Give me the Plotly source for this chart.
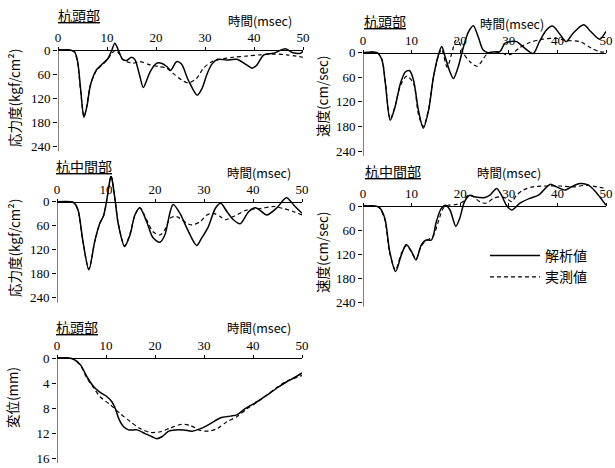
import plotly.graph_objects as go

W, H = 615, 468

# ---------------- data ----------------
xticks = [0, 10, 20, 30, 40, 50]
stress_ticks = [0, 60, 120, 180, 240]
vel_ticks = [0, 60, 120, 180, 240]
disp_ticks = [0, 4, 8, 12, 16]

series_names = ["解析値", "実測値"]

# Panel 1: 杭頭部 応力度
t1s = [0, 2.5, 3.4, 4.0, 4.6, 5.3, 5.9, 6.6, 7.8, 9.2, 10.2, 10.9, 11.6, 12.3, 13.2, 14.0, 15.0, 15.7, 16.6,
       17.4, 18.2, 18.8, 20.1, 21.1, 22.2, 23.0, 24.2, 25.2, 26.6, 28.4, 29.4, 30.4, 31.4, 32.6, 34.4, 36.5,
       38.5, 39.6, 40.6, 42.0, 44.0, 46.4, 48.0, 49.5, 50]
v1s = [0, 0, 5, 28, 95, 167, 140, 88, 50, 33, 21, 3, -17, 0, 23, 26, 18, 24, 60,
       93, 72, 54, 33, 33, 41, 50, 29, 35, 75, 112, 95, 60, 35, 23, 25, 23,
       37, 45, 37, 12, 8, -3, 7, 8, 3]
t1d = [0, 2.5, 3.4, 4.0, 4.6, 5.3, 5.9, 6.6, 7.8, 9.2, 10.2, 11.0, 11.8, 12.6, 13.3, 14.3, 15.3, 16.7, 18.8,
       20.5, 22.2, 23.5, 25.2, 26.6, 28.3, 29.7, 31.4, 33.1, 35.8, 38.5, 41.3, 44.0, 46.7, 50]
v1d = [0, 0, 6, 32, 100, 165, 138, 88, 52, 35, 22, 8, 0, 12, 25, 30, 33, 29, 37,
       41, 45, 58, 74, 82, 70, 45, 29, 23, 18, 15, 12, 10, 12, 18]

# Panel 2: 杭頭部 速度
t2s = [0, 2.9, 3.9, 4.6, 5.6, 6.6, 7.7, 8.7, 9.6, 10.4, 11.4, 12.4, 13.5, 14.5, 15.5, 16.2, 16.9, 17.9,
       18.6, 19.6, 20.6, 21.7, 22.7, 23.7, 24.7, 25.7, 26.8, 28.1, 29.2, 30.2, 31.6, 32.9, 35.0, 36.3,
       37.7, 39.0, 40.4, 41.8, 43.2, 45.4, 46.9, 48.7, 50]
v2s = [0, 0, 18, 75, 165, 132, 75, 47, 44, 67, 140, 184, 140, 59, 6, -15, 10, 47,
       63, 34, -11, -51, -66, -39, -7, 0, -2, -2, -23, -27, -27, -15, 2, -27,
       -55, -65, -47, -27, -47, -68, -51, -33, -52]
t2d = [0, 2.9, 3.9, 4.6, 5.6, 6.6, 7.7, 9.0, 10.4, 11.4, 12.4, 13.5, 14.5, 15.5, 16.2, 17.3, 18.3, 19.1,
       19.8, 20.6, 22.0, 23.5, 25.4, 26.8, 28.1, 29.5, 30.6, 32.2, 34.3, 37.0, 39.8, 41.8, 44.6, 47.0,
       48.8, 50]
v2d = [0, 0, 16, 72, 162, 130, 80, 57, 75, 150, 180, 138, 60, 8, -8, 35, 0, -30,
       -25, 0, 22, 33, 5, -2, -2, 5, 3, -12, -25, -33, -35, -30, -27, -11,
       -2, -2]

# Panel 3: 杭中間部 応力度
t3s = [0, 2.8, 3.5, 4.3, 5.3, 6.5, 7.7, 8.7, 9.5, 10.1, 10.8, 11.0, 11.2, 11.9, 12.5, 13.8, 14.9, 15.9,
       16.9, 18.3, 19.6, 21.0, 22.0, 23.1, 23.7, 25.1, 26.5, 28.5, 29.5, 30.9, 32.3, 33.4, 34.7, 36.0,
       37.4, 39.1, 40.5, 41.5, 42.8, 44.9, 46.8, 48.3, 50]
v3s = [0, 0, 3, 21, 99, 170, 99, 55, 35, 0, -54, -64, -58, 0, 55, 112, 83, 33,
       15, 50, 90, 101, 83, 25, 7, 29, 66, 109, 91, 62, 17, 4, 25, 45,
       55, 25, 15, 22, 33, 15, -10, 8, 29]
t3d = [0, 2.8, 3.5, 4.3, 5.3, 6.5, 7.7, 8.7, 9.5, 10.1, 10.8, 11.0, 11.2, 11.9, 12.5, 13.8, 14.9, 15.9,
       16.9, 18.3, 19.6, 21.0, 22.0, 23.1, 24.4, 26.5, 27.5, 29.2, 30.6, 31.9, 33.3, 34.3, 36.0, 38.7,
       41.5, 44.2, 46.2, 48.3, 50]
v3d = [0, 0, 3, 22, 100, 168, 100, 55, 35, 0, -54, -64, -58, 0, 55, 110, 80, 33,
       15, 45, 75, 83, 70, 41, 37, 54, 58, 50, 33, 29, 37, 45, 37, 21,
       17, 12, 17, 25, 33]

# Panel 4: 杭中間部 速度
t4s = [0, 2.5, 3.4, 4.5, 5.5, 6.7, 7.9, 8.9, 10.0, 10.9, 12.0, 13.0, 14.1, 15.1, 16.1, 17.0, 17.9, 19.1,
       19.9, 20.9, 22.0, 23.0, 24.0, 25.1, 26.1, 27.5, 28.5, 29.5, 30.6, 32.3, 34.3, 36.1, 38.5, 39.8,
       41.6, 42.9, 44.6, 46.4, 48.1, 50]
v4s = [0, 0, 4, 31, 114, 164, 122, 96, 114, 135, 97, 85, 85, 39, 6, -2, 10, 51,
       31, -11, -27, -23, -21, -21, -27, -44, -27, -2, 10, -7, -19, -27, -54, -48,
       -40, -48, -56, -52, -32, -2]
t4d = [0, 2.5, 3.4, 4.5, 5.5, 6.7, 7.9, 8.9, 10.0, 10.9, 12.0, 13.0, 14.4, 15.5, 16.5, 17.5, 19.2, 20.6,
       21.6, 22.7, 24.0, 25.4, 26.8, 28.2, 29.5, 30.6, 31.6, 33.0, 35.0, 37.8, 40.5, 43.3, 46.0, 48.1, 50]
v4d = [0, 0, 5, 35, 118, 160, 118, 100, 115, 133, 100, 87, 76, 39, 6, -2, -4, -11,
       -27, -23, -11, -7, -19, -23, -19, -11, -27, -40, -48, -50, -50, -48, -52, -48, -44]

# Panel 5: 杭頭部 変位
t5s = [0, 2.5, 3.4, 4.8, 6.1, 7.5, 8.8, 10.2, 11.2, 11.9, 12.6, 13.6, 14.6, 16.3, 18.0, 19.4, 20.4, 21.4,
       22.8, 24.1, 25.9, 27.6, 29.3, 31.3, 33.3, 35.4, 36.7, 38.4, 40.8, 42.9, 44.9, 46.9, 48.3, 50]
v5s = [0, 0, 0.2, 1.1, 3.0, 4.6, 5.5, 6.2, 7.0, 8.1, 9.7, 11.0, 11.5, 11.5, 12.1, 12.6, 12.9, 12.6,
       11.7, 11.5, 11.5, 11.7, 11.3, 10.5, 9.6, 9.3, 9.1, 8.1, 7.0, 5.9, 4.8, 3.8, 3.2, 2.4]
t5d = [0, 2.5, 3.4, 4.8, 6.1, 7.5, 8.8, 10.9, 12.9, 15.0, 17.0, 19.0, 21.1, 23.1, 25.5, 27.2, 29.3, 31.0,
       32.7, 34.7, 36.7, 38.8, 40.8, 42.9, 44.9, 46.9, 50]
v5d = [0, 0, 0.2, 1.2, 3.2, 4.8, 6.2, 7.5, 8.9, 10.2, 11.3, 11.9, 11.8, 11.2, 10.6, 10.8, 11.6, 11.7,
       11.3, 10.2, 9.4, 8.1, 7.1, 5.9, 4.7, 3.7, 2.8]

# ---------------- layout ----------------
SERIF = "Liberation Serif, Noto Sans CJK JP"
JP = "Noto Sans CJK JP, Liberation Serif"

panels = [
    dict(s=(t1s, v1s), d=(t1d, v1d), ticks=stress_ticks, x0=58, x50=303, y0=50, ppu=0.403, vtop=-22, vbot=252,
         ytitle="応力度(kgf/cm²)", ytx=14, yty=98, label="杭頭部", lx=79, ly=15, tx=260, ty=21),
    dict(s=(t2s, v2s), d=(t2d, v2d), ticks=vel_ticks, x0=363, x50=606, y0=52.7, ppu=0.41, vtop=-75, vbot=252,
         ytitle="速度(cm/sec)", ytx=322, yty=96, label="杭頭部", lx=385, ly=21, tx=512, ty=23),
    dict(s=(t3s, v3s), d=(t3d, v3d), ticks=stress_ticks, x0=57, x50=302, y0=201.7, ppu=0.401, vtop=-64, vbot=252,
         ytitle="応力度(kgf/cm²)", ytx=14, yty=248, label="杭中間部", lx=84, ly=166, tx=259, ty=172),
    dict(s=(t4s, v4s), d=(t4d, v4d), ticks=vel_ticks, x0=363, x50=606, y0=206, ppu=0.40, vtop=-62, vbot=252,
         ytitle="速度(cm/sec)", ytx=322, yty=252, label="杭中間部", lx=393, ly=171, tx=509, ty=172),
    dict(s=(t5s, v5s), d=(t5d, v5d), ticks=disp_ticks, x0=57, x50=302, y0=358, ppu=6.25, vtop=-1.2, vbot=16.8,
         ytitle="変位(mm)", ytx=12, yty=398, label="杭頭部", lx=77, ly=327, tx=259, ty=327),
]

fig = go.Figure()
annotations = []
shapes = []

for i, p in enumerate(panels):
    n = "" if i == 0 else str(i + 1)
    xa, ya = "x" + n, "y" + n
    fig.add_trace(go.Scatter(x=p["s"][0], y=p["s"][1], mode="lines", name=series_names[0],
                             line=dict(color="black", width=1.5, shape="spline", smoothing=0.8),
                             xaxis=xa, yaxis=ya, showlegend=(i == 0), legendgroup="a"))
    fig.add_trace(go.Scatter(x=p["d"][0], y=p["d"][1], mode="lines", name=series_names[1],
                             line=dict(color="black", width=1.2, dash="4px,3px", shape="spline", smoothing=0.8),
                             xaxis=xa, yaxis=ya, showlegend=(i == 0), legendgroup="b"))
    top_px = p["y0"] + p["vtop"] * p["ppu"]
    bot_px = p["y0"] + p["vbot"] * p["ppu"]
    fig.layout["xaxis" + n] = dict(
        domain=[p["x0"] / W, p["x50"] / W], range=[0, 50], anchor="free", position=1 - p["y0"] / H,
        side="top", showline=True, linecolor="black", linewidth=1, ticks="outside", ticklen=3,
        tickcolor="black", tickvals=xticks, showgrid=False, zeroline=False, automargin=False,
        tickfont=dict(family=SERIF, size=13, color="black"))
    fig.layout["yaxis" + n] = dict(
        domain=[1 - bot_px / H, 1 - top_px / H], range=[p["vbot"], p["vtop"]], anchor=xa,
        showline=False, ticks="outside", ticklen=4, tickcolor="black", tickvals=p["ticks"],
        showgrid=False, zeroline=False, automargin=False,
        tickfont=dict(family=SERIF, size=13, color="black"))
    shapes.append(dict(type="line", xref=xa, yref=ya, x0=0, x1=0, y0=0, y1=p["vbot"],
                       line=dict(color="black", width=1)))
    annotations.append(dict(text=p["ytitle"], textangle=-90, x=p["ytx"] / W, y=1 - p["yty"] / H,
                            xref="paper", yref="paper", showarrow=False, xanchor="center", yanchor="middle",
                            font=dict(family=JP, size=13.5, color="black")))
    annotations.append(dict(text="<u>" + p["label"] + "</u>", x=p["lx"] / W, y=1 - p["ly"] / H,
                            xref="paper", yref="paper", showarrow=False, xanchor="center", yanchor="middle",
                            font=dict(family=JP, size=14, color="black")))
    annotations.append(dict(text="時間(msec)", x=p["tx"] / W, y=1 - p["ty"] / H,
                            xref="paper", yref="paper", showarrow=False, xanchor="center", yanchor="middle",
                            font=dict(family=JP, size=12.5, color="black")))

fig.update_layout(
    template="none",
    width=W, height=H, margin=dict(l=0, r=0, t=0, b=0, autoexpand=False),
    paper_bgcolor="white", plot_bgcolor="white",
    annotations=annotations, shapes=shapes,
    showlegend=True,
    legend=dict(x=485 / W, y=1 - 240 / H, xanchor="left", yanchor="top", itemwidth=50,
                tracegroupgap=0, font=dict(family=JP, size=14, color="black"),
                bgcolor="rgba(0,0,0,0)"),
)

fig.write_html("out.html", config={"displayModeBar": False},
               post_script="document.body.style.margin='0';document.body.style.overflow='hidden';")
